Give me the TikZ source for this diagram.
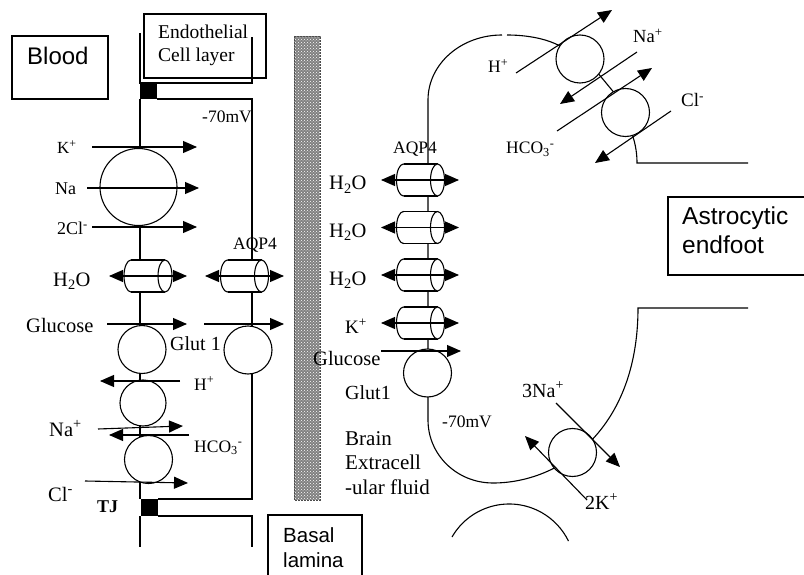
\documentclass[tikz,border=0pt]{standalone}
\usepackage{fontspec}
\setmainfont{Liberation Serif}
\newfontfamily\arialf{Liberation Sans}
\usetikzlibrary{arrows.meta,patterns}
\tikzset{
  mem/.style={line width=1.1pt},
  arr/.style={line width=1.1pt,-{Triangle[length=14pt,width=12pt]}},
  darr/.style={line width=1.1pt,{Triangle[length=14pt,width=12pt]}-{Triangle[length=14pt,width=12pt]}},
  pump/.style={circle,draw,fill=white,line width=1.1pt,minimum size=48pt,inner sep=0pt},
  lbl/.style={inner sep=0pt,anchor=base west},
  fs/.style={font=\fontsize{#1}{#1}\selectfont},
  sans/.style={font=\arialf\fontsize{#1}{#1}\selectfont},
  cylinder pic/.pic={
    \draw[line width=1.1pt,fill=white] (-17,0) ellipse [x radius=7,y radius=16];
    \fill[white] (-17,-16) rectangle (17,16);
    \draw[line width=1.1pt] (-17,-16) -- (17,-16) (-17,16) -- (17,16);
    \draw[line width=1.1pt,fill=white] (17,0) ellipse [x radius=7,y radius=16];
  }
}
\begin{document}
\begin{tikzpicture}[x=1pt,y=-1pt]
\useasboundingbox (0,0) rectangle (804,575);

% ---- boxes with sans labels
\draw[mem] (12,36) rectangle (108,99);
\node[lbl,sans=24] (blood) at (27,65) {Blood};
\draw[mem] (144,14) rectangle (266,78);
\node[lbl,fs=19.5] (endo1) at (158,39) {Endothelial};
\node[lbl,fs=19.5] (endo2) at (158,62) {Cell layer};
\draw[mem] (268,575) -- (268,515) -- (362,515) -- (362,575);
\node[lbl,sans=20.5] (bas1) at (283,542) {Basal};
\node[lbl,sans=20.5] (bas2) at (283,567) {lamina};
\draw[mem] (804,197) -- (668,197) -- (668,275) -- (804,275);
\node[lbl,sans=24.5] (ast1) at (682,225) {Astrocytic};
\node[lbl,sans=24.5] (ast2) at (682,253) {endfoot};

% ---- basal lamina bar
\fill[black!50] (294,36) rectangle (320,500);
\fill[pattern=crosshatch dots,pattern color=white] (294,36) rectangle (320,500);
\draw[gray!60!black,line width=0.8pt,dash pattern=on 2pt off 1pt] (294,36) rectangle (320,500);

% ---- endothelial cell membranes
\draw[mem] (140,33) -- (140,83) -- (252,83) -- (252,37);
\draw[mem] (157,99) -- (252,99) -- (252,499) -- (158,499);
\draw[mem] (140,99) -- (140,499);
\draw[mem] (140,516) -- (140,547);
\draw[mem] (158,516) -- (252,516) -- (252,547);
\fill (140,83) rectangle (157,99);
\fill (141,499) rectangle (158,516);

% ---- astrocyte membrane
\draw[mem] (502,35) .. controls (461,35) and (428,64) .. (428,100) -- (428,420)
  .. controls (428,455) and (457,483) .. (493,483)
  .. controls (560,483) and (638,430) .. (638,308) -- (748,308);
\draw[mem] (507,35) .. controls (525,35) and (545,38) .. (560,46);
\draw[mem] (597,72) -- (616,95);
\draw[mem] (632,134) .. controls (636,145) and (637,155) .. (637,163) -- (748,163);
\draw[mem] (452,537) arc[start angle=210,end angle=334,radius=66];

% ---- transporters (left)
\node[pump,minimum size=77pt] (nkcc) at (138.5,187) {};
\node[pump] (glutL) at (142,349.5) {};
\node[pump,minimum size=46pt] (nhe) at (143,403) {};
\node[pump] (nbc) at (148.5,459.5) {};
\node[pump] (glutM) at (248,350) {};
\pic at (148,276) {cylinder pic};
\pic at (244.5,276) {cylinder pic};

% ---- transporters (astrocyte)
\foreach \yy in {180,227.5,275,323} {\pic at (420.5,\yy) {cylinder pic};}
\node[pump] (glutA) at (427.5,373) {};
\node[pump] (pA) at (580,59) {};
\node[pump] (pB) at (625.5,112.5) {};
\node[pump] (nak) at (572.5,452.5) {};

% ---- arrow end points
\coordinate (k1) at (92,147);   \coordinate (k2) at (197,147);
\coordinate (na1) at (87,188);  \coordinate (na2) at (199,188);
\coordinate (cl1) at (92,227);  \coordinate (cl2) at (197,227);
\coordinate (w1) at (109,276);  \coordinate (w2) at (187,276);
\coordinate (w3) at (205,276);  \coordinate (w4) at (284,276);
\coordinate (g1) at (107,324);  \coordinate (g2) at (187,324);
\coordinate (g3) at (204,324);  \coordinate (g4) at (284,324);
\coordinate (h1) at (180,381);  \coordinate (h2) at (100,381);
\coordinate (n1) at (98,429);   \coordinate (n2) at (183,426);
\coordinate (b1) at (189,435);  \coordinate (b2) at (109,435);
\coordinate (c1) at (85,481);   \coordinate (c2) at (188,483);
\coordinate (ga1) at (381,351); \coordinate (ga2) at (461,351);
\coordinate (ha1) at (516,73);  \coordinate (ha2) at (612,10);
\coordinate (nr1) at (637,52);  \coordinate (nr2) at (560,104);
\coordinate (br1) at (557,131); \coordinate (br2) at (652,68);
\coordinate (cr1) at (671,111); \coordinate (cr2) at (595,163);
\coordinate (s1) at (556,403);  \coordinate (s2) at (620,467);
\coordinate (p1) at (587,500);  \coordinate (p2) at (525,436);

\draw[arr] (k1) -- (k2);
\draw[arr] (na1) -- (na2);
\draw[arr] (cl1) -- (cl2);
\draw[darr] (w1) -- (w2);
\draw[darr] (w3) -- (w4);
\draw[arr] (g1) -- (g2);
\draw[arr] (g3) -- (g4);
\draw[arr] (h1) -- (h2);
\draw[arr] (n1) -- (n2);
\draw[arr] (b1) -- (b2);
\draw[arr] (c1) -- (c2);
\foreach \yy in {180,227.5,275,323} {\draw[darr] (381,\yy) -- (459,\yy);}
\draw[arr] (ga1) -- (ga2);
\draw[arr] (ha1) -- (ha2);
\draw[arr] (nr1) -- (nr2);
\draw[arr] (br1) -- (br2);
\draw[arr] (cr1) -- (cr2);
\draw[arr] (s1) -- (s2);
\draw[arr] (p1) -- (p2);

% ---- labels left
\node[lbl,fs=17.5] (mv1) at (202,123) {-70mV};
\node[lbl,fs=17] (tk) at (57,154) {K\textsuperscript{+}};
\node[lbl,fs=18] (tna) at (55,195) {Na};
\node[lbl,fs=18] (tcl) at (57,235) {2Cl\textsuperscript{-}};
\node[lbl,fs=20.5] (tw) at (53,286) {H\textsubscript{2}O};
\node[lbl,fs=17.5] (aq1) at (233,250) {AQP4};
\node[lbl,fs=20.5] (tg) at (26,332) {Glucose};
\node[lbl,fs=20] (tgl) at (170,350) {Glut 1};
\node[lbl,fs=17.5] (th) at (194,390) {H\textsuperscript{+}};
\node[lbl,fs=20.5] (tnap) at (49,436) {Na\textsuperscript{+}};
\node[lbl,fs=17.5] (thco) at (194,452) {HCO\textsubscript{3}\textsuperscript{-}};
\node[lbl,fs=20.5] (tclm) at (48,501) {Cl\textsuperscript{-}};
\node[lbl,font=\bfseries\fontsize{18}{18}\selectfont] (tj) at (97,512) {TJ};

% ---- labels middle / astrocyte
\node[lbl,fs=17.5] (aq2) at (393,154) {AQP4};
\node[lbl,fs=20.5] (wa1) at (329,190) {H\textsubscript{2}O};
\node[lbl,fs=20.5] (wa2) at (329,237.5) {H\textsubscript{2}O};
\node[lbl,fs=20.5] (wa3) at (329,285) {H\textsubscript{2}O};
\node[lbl,fs=19] (ka) at (345,333) {K\textsuperscript{+}};
\node[lbl,fs=20.5] (gla) at (313,365) {Glucose};
\node[lbl,fs=20] (gta) at (345,399) {Glut1};
\node[lbl,fs=17.5] (mv2) at (442,427) {-70mV};
\node[lbl,fs=21] (ecf1) at (345,445) {Brain};
\node[lbl,fs=21] (ecf2) at (345,469) {Extracell};
\node[lbl,fs=21] (ecf3) at (345,494) {-ular fluid};
\node[lbl,fs=17.5] (hr) at (488,73) {H\textsuperscript{+}};
\node[lbl,fs=18.5] (nar) at (633,43) {Na\textsuperscript{+}};
\node[lbl,fs=17.5] (hcr) at (506,154) {HCO\textsubscript{3}\textsuperscript{-}};
\node[lbl,fs=19] (clr) at (681,107) {Cl\textsuperscript{-}};
\node[lbl,fs=20] (na3) at (522,397) {3Na\textsuperscript{+}};
\node[lbl,fs=20] (k2l) at (585,509) {2K\textsuperscript{+}};
\end{tikzpicture}
\end{document}
